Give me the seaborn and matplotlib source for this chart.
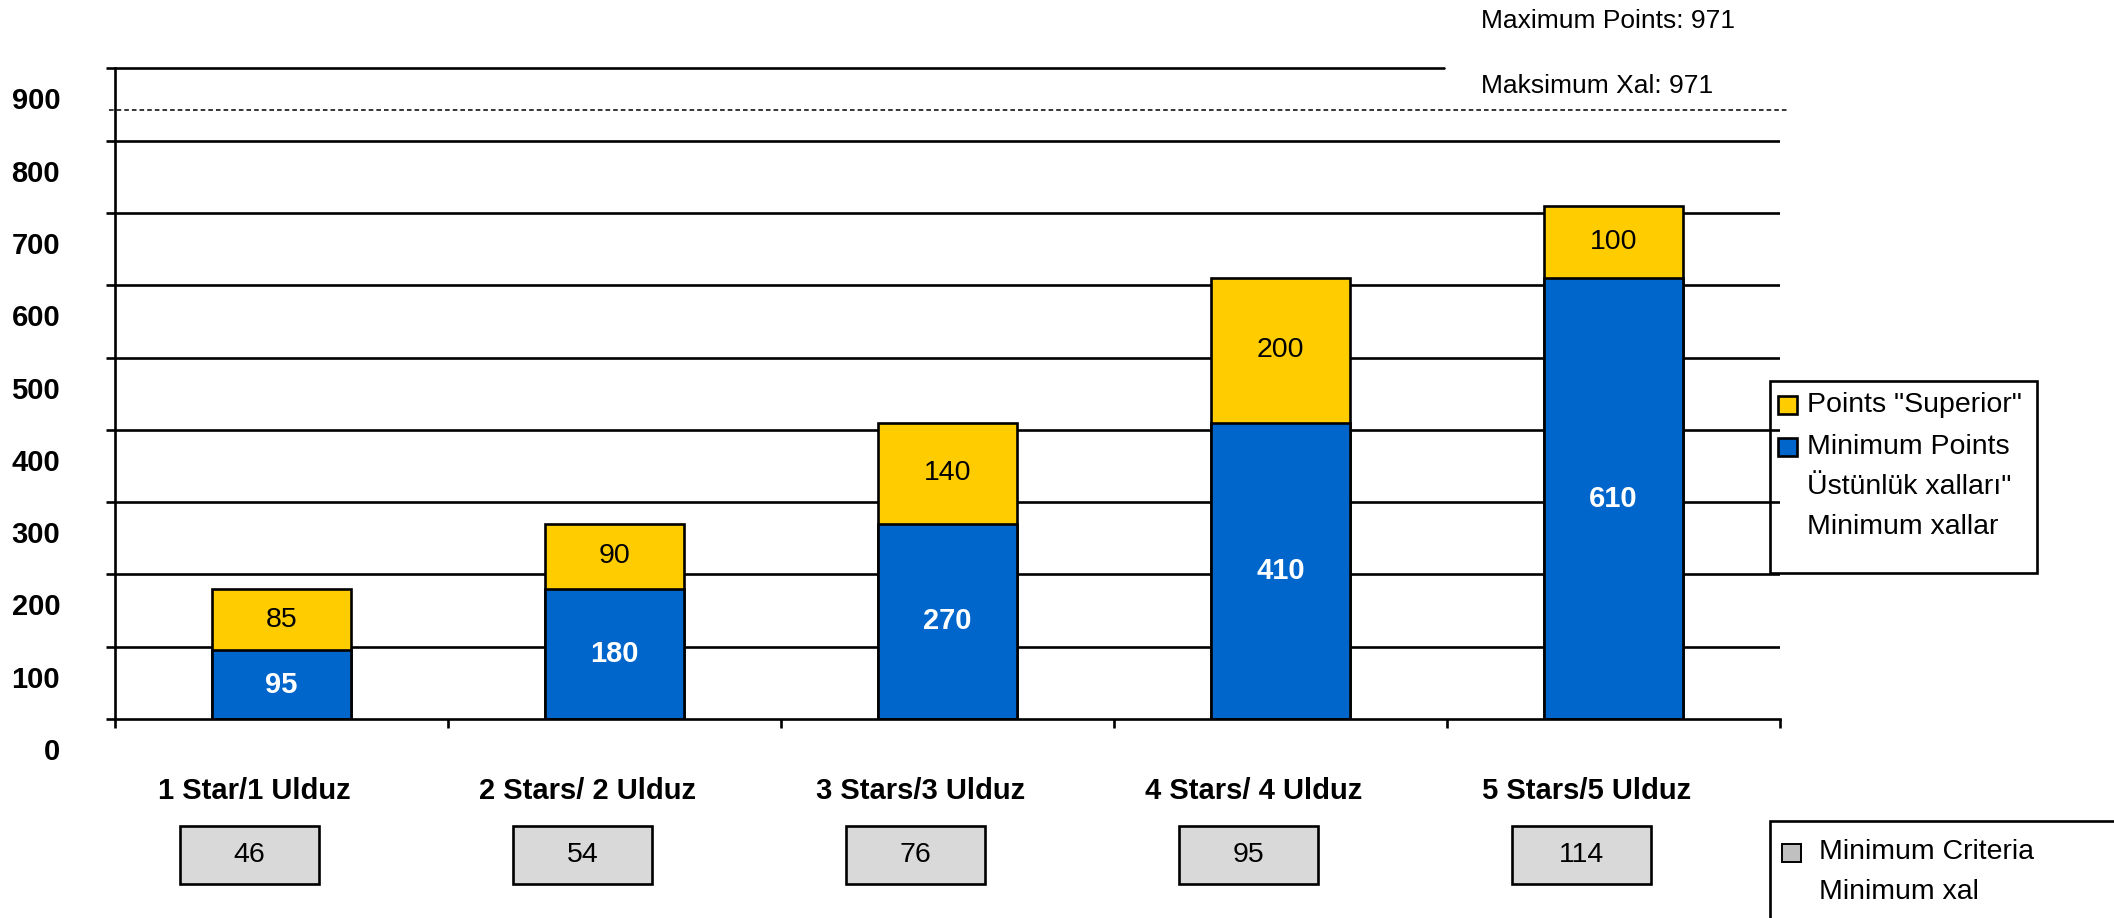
import numpy as np
import pandas as pd
import matplotlib
matplotlib.use("Agg")
import matplotlib.pyplot as plt
import matplotlib.transforms as mtransforms
from matplotlib.patches import Rectangle
import seaborn as sns

# ---------------- data ----------------
categories = ["1 Star/1 Ulduz", "2 Stars/ 2 Ulduz", "3 Stars/3 Ulduz",
              "4 Stars/ 4 Ulduz", "5 Stars/5 Ulduz"]
minimum_points = [95, 180, 270, 410, 610]
superior_points = [85, 90, 140, 200, 100]
minimum_criteria = [46, 54, 76, 95, 114]
y_ticks = [0, 100, 200, 300, 400, 500, 600, 700, 800, 900]
max_texts = ["Maximum Points: 971", "Maksimum Xal: 971"]
max_line_level = 842
legend_bar_labels = ['Points "Superior"', "Minimum Points",
                     'Üstünlük xalları"', "Minimum xallar"]
legend_criteria_labels = ["Minimum Criteria", "Minimum xal"]

YELLOW = "#FFCC00"
BLUE = "#0066CC"
GRAY = "#D9D9D9"
GRAY_KEY = "#C0C0C0"

sns.set_theme(style="white")
plt.rcParams["font.family"] = ["Liberation Sans", "DejaVu Sans"]
plt.rcParams["text.color"] = "black"
plt.rcParams["axes.labelcolor"] = "black"
plt.rcParams["xtick.color"] = "black"
plt.rcParams["ytick.color"] = "black"

LW = 1.9

W, H = 2114, 918
fig = plt.figure(figsize=(W / 100, H / 100), dpi=100)


def fx(x):
    return x / W


def fy(y):
    return 1 - y / H


ax_l, ax_r, ax_b, ax_t = 115, 1780, 719, 68.4
ax = fig.add_axes([fx(ax_l), fy(ax_b), (ax_r - ax_l) / W, (ax_b - ax_t) / H])

df = pd.DataFrame({"category": categories,
                   "minimum": minimum_points,
                   "superior": superior_points})
df["total"] = df["minimum"] + df["superior"]

bar_w = 0.42
sns.barplot(data=df, x="category", y="total", color=YELLOW, saturation=1,
            width=bar_w, edgecolor="black", linewidth=LW, errorbar=None,
            ax=ax, zorder=3)
sns.barplot(data=df, x="category", y="minimum", color=BLUE, saturation=1,
            width=bar_w, edgecolor="black", linewidth=LW, errorbar=None,
            ax=ax, zorder=3)

# value labels
for i, (m, s) in enumerate(zip(df["minimum"], df["superior"])):
    ax.text(i, m / 2, str(m), ha="center", va="center", color="white",
            fontsize=21, fontweight="bold", zorder=5)
    ax.text(i, m + s / 2, str(s), ha="center", va="center", color="black",
            fontsize=20.5, zorder=5)

# axes
ax.set_xlim(-0.5, len(categories) - 0.5)
ax.set_ylim(0, y_ticks[-1])
ax.set_xlabel("")
ax.set_ylabel("")
for sp in ["top", "right"]:
    ax.spines[sp].set_visible(False)
for sp in ["left", "bottom"]:
    ax.spines[sp].set_color("black")
    ax.spines[sp].set_linewidth(LW)
    ax.spines[sp].set_zorder(4)

ax.set_yticks(y_ticks)
ax.set_yticklabels([str(v) for v in y_ticks])
ax.tick_params(axis="y", which="major", left=True, direction="out",
               length=6.5, width=LW, color="black", pad=33,
               labelsize=21, labelcolor="black")
yoff = mtransforms.ScaledTranslation(0, -0.30, fig.dpi_scale_trans)
for lab in ax.get_yticklabels():
    lab.set_fontweight("bold")
    lab.set_transform(lab.get_transform() + yoff)

ax.set_xticks(range(len(categories)))
ax.set_xticklabels(categories)
ax.set_xticks(np.arange(-0.5, len(categories), 1.0), minor=True)
ax.tick_params(axis="x", which="major", bottom=True, length=0, pad=42,
               labelsize=21, labelcolor="black")
ax.tick_params(axis="x", which="minor", bottom=True, direction="out",
               length=6.5, width=LW, color="black")
xoff = mtransforms.ScaledTranslation(-0.27, 0, fig.dpi_scale_trans)
for lab in ax.get_xticklabels():
    lab.set_fontweight("bold")
    lab.set_transform(lab.get_transform() + xoff)

# gridlines
for v in y_ticks[1:-1]:
    ax.axhline(v, color="black", lw=LW, zorder=1)
ax.axhline(y_ticks[-1], xmin=0, xmax=(1444 - ax_l) / (ax_r - ax_l),
           color="black", lw=LW, zorder=1, clip_on=False)
ax.axhline(max_line_level, xmin=(109 - ax_l) / (ax_r - ax_l),
           xmax=(1787 - ax_l) / (ax_r - ax_l), color="black", lw=1.1,
           ls=(0, (3, 2)), zorder=1, clip_on=False)

# minimum criteria boxes
box_off, box_w, box_top, box_bot = -0.096, 0.42, -148, -228
for i, v in enumerate(minimum_criteria):
    ax.add_patch(Rectangle((i + box_off - box_w / 2, box_bot), box_w,
                           box_top - box_bot, facecolor=GRAY,
                           edgecolor="black", lw=LW, clip_on=False))
    ax.text(i + box_off, (box_top + box_bot) / 2, str(v), ha="center",
            va="center", fontsize=20.5, color="black", clip_on=False)

# top texts
fig.text(fx(1481), fy(21), max_texts[0], ha="left", va="center", fontsize=19)
fig.text(fx(1481), fy(86), max_texts[1], ha="left", va="center", fontsize=19)

# right legend (bars)
fig.patches.append(Rectangle((fx(1770), fy(573)), (2037 - 1770) / W,
                             (573 - 381) / H, transform=fig.transFigure,
                             fill=False, edgecolor="black", lw=LW))
fig.patches.append(Rectangle((fx(1778), fy(414)), 19 / W, 18 / H,
                             transform=fig.transFigure, facecolor=YELLOW,
                             edgecolor="black", lw=LW))
fig.patches.append(Rectangle((fx(1778), fy(456)), 19 / W, 18 / H,
                             transform=fig.transFigure, facecolor=BLUE,
                             edgecolor="black", lw=LW))
for lbl, yy in zip(legend_bar_labels, [405, 447, 487, 527]):
    fig.text(fx(1807), fy(yy), lbl, ha="left", va="center", fontsize=20.5)

# bottom legend (criteria)
fig.patches.append(Rectangle((fx(1770), fy(960)), (2160 - 1770) / W,
                             (960 - 821) / H, transform=fig.transFigure,
                             fill=False, edgecolor="black", lw=LW))
fig.patches.append(Rectangle((fx(1782), fy(862)), 19 / W, 18 / H,
                             transform=fig.transFigure, facecolor=GRAY_KEY,
                             edgecolor="black", lw=1.4))
for lbl, yy in zip(legend_criteria_labels, [852, 892]):
    fig.text(fx(1819), fy(yy), lbl, ha="left", va="center", fontsize=20.5)

fig.savefig("out.png", dpi=100, facecolor="white")
